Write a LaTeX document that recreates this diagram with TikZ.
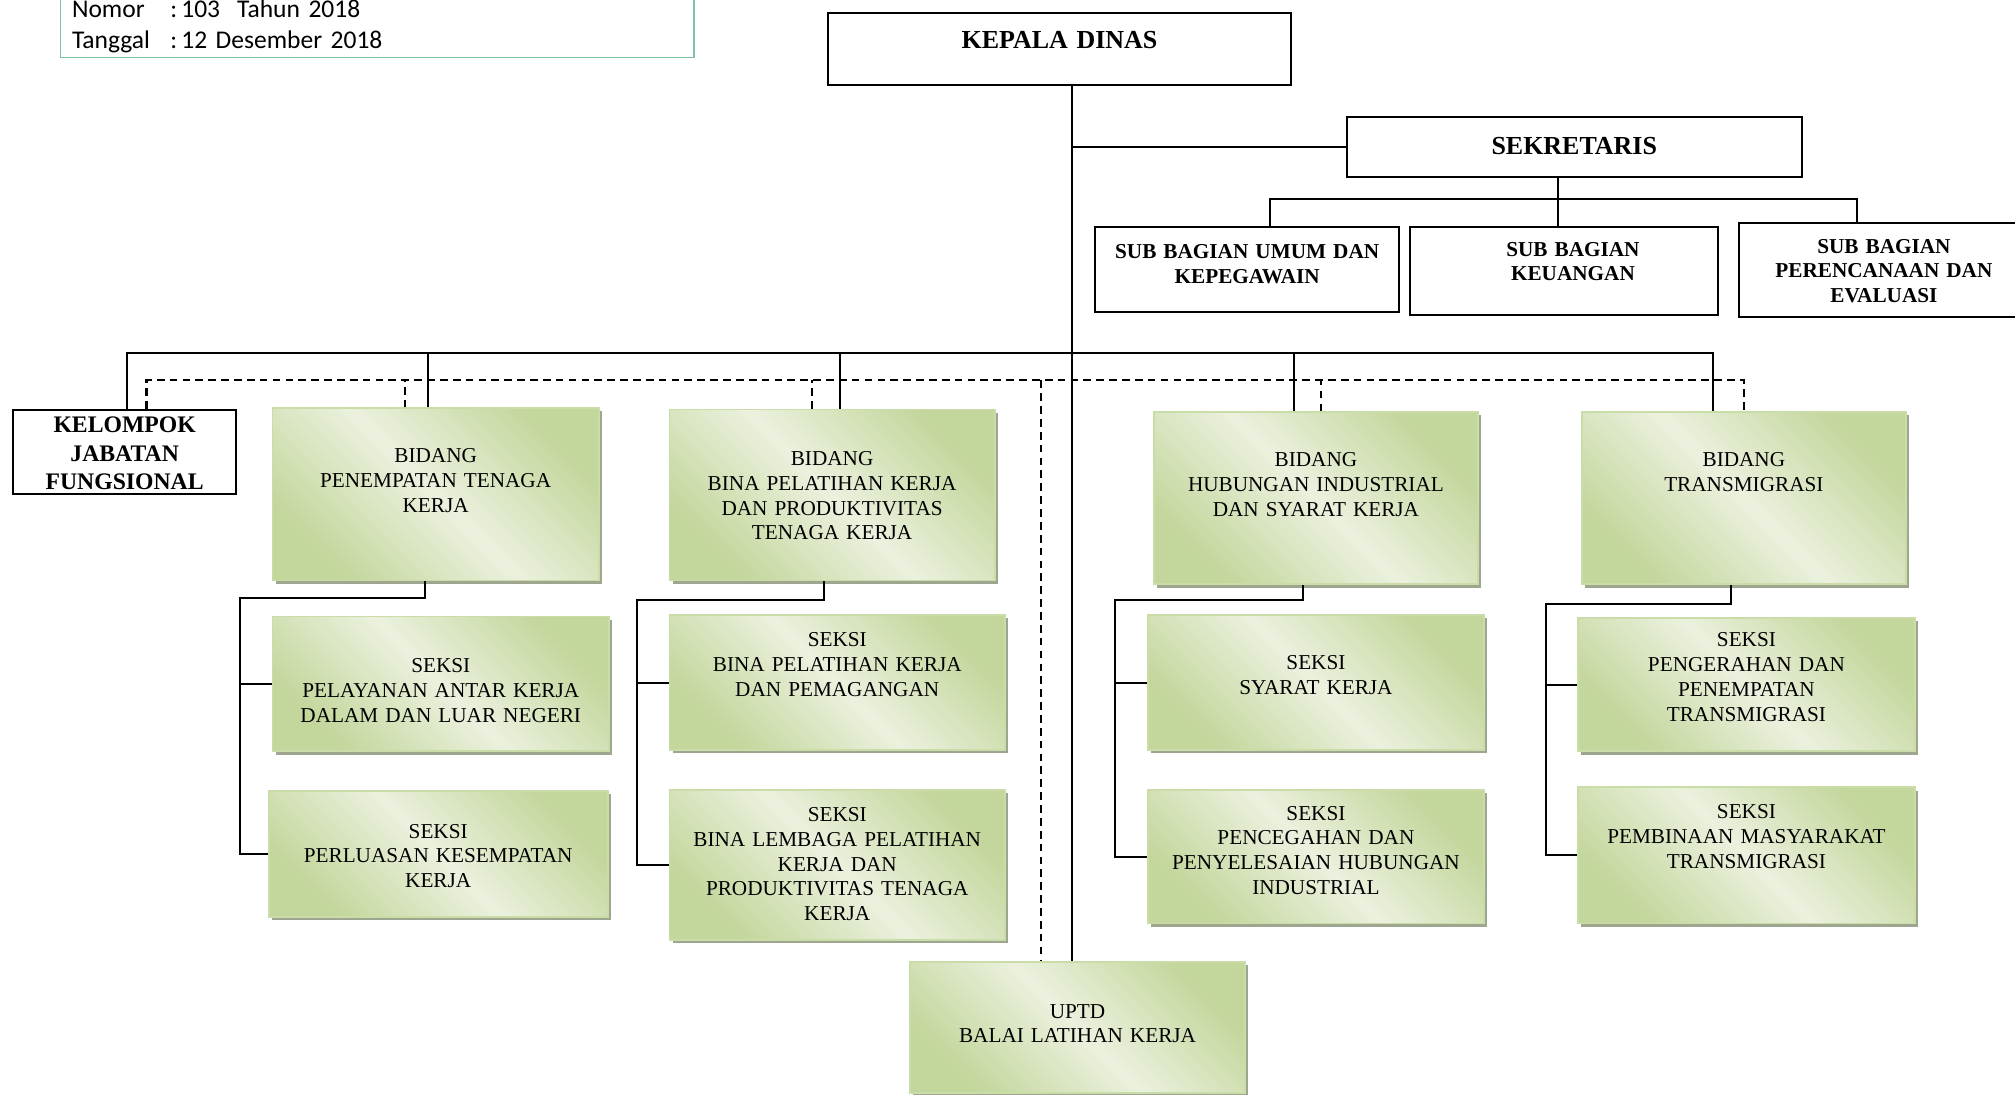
\documentclass[tikz,border=0pt]{standalone}
\usepackage{fontspec}
\setmainfont{Liberation Serif}
\newfontfamily\kalibri{Carlito}
\usetikzlibrary{calc,shadows}

\definecolor{hijaumuda}{HTML}{EBF1DE}
\definecolor{hijautua}{HTML}{C3D69B}
\definecolor{tepihijau}{HTML}{CADCA8}
\definecolor{bayang}{HTML}{9EA68F}
\definecolor{tepisk}{HTML}{7FC4A2}

\begin{document}
\begin{tikzpicture}[x=0.02cm,y=-0.02cm,
  kotak/.style={draw,line width=0.9pt,anchor=north,inner sep=0pt,align=center,
    font=\bfseries\fontsize{9.4}{10.8}\selectfont},
  hijau/.style={draw=tepihijau,line width=0.8pt,anchor=north,inner sep=0pt,align=center,
    top color=hijautua,bottom color=hijautua,middle color=hijaumuda,shading angle=-45,
    drop shadow={shadow xshift=0.05cm,shadow yshift=-0.05cm,fill=bayang,opacity=1},
    font=\fontsize{9.4}{11}\selectfont},
  garis/.style={line width=0.9pt},
  putus/.style={line width=0.9pt,dash pattern=on 3.4pt off 2.3pt}
  ]

  \useasboundingbox (0,0) rectangle (1568,852);
  \clip (0,0) rectangle (1568,852);

  \node[draw=tepisk,line width=0.6pt,anchor=north,inner ysep=0pt,inner xsep=0.18cm,
    text width=9.5cm,align=left,text height=0.66cm,text depth=0.62cm,
    font=\kalibri\fontsize{11.3}{13.6}\selectfont] (sk) at (293.5,-20)
    {\begin{tabular}[t]{@{}l@{\hspace{9pt}}l@{}}Nomor & :\,103\ \ Tahun 2018\\ Tanggal & :\,12 Desember 2018\end{tabular}};

  \node[kotak,text width=7.22cm,text height=0.554cm,text depth=0.566cm,
    font=\bfseries\fontsize{11.5}{13}\selectfont] (kadis) at (824.5,9) {KEPALA DINAS};
  \node[kotak,text width=7.08cm,text height=0.594cm,text depth=0.346cm,
    font=\bfseries\fontsize{11.5}{13}\selectfont] (sekr) at (1225,90) {SEKRETARIS};

  \node[kotak,text width=4.74cm,text height=0.49cm,text depth=0.83cm] (sbu) at (970.5,176)
    {SUB BAGIAN UMUM DAN\\KEPEGAWAIN};
  \node[kotak,text width=4.8cm,text height=0.45cm,text depth=0.91cm] (sbk) at (1217,176)
    {\hspace*{0.28cm}SUB BAGIAN\\\hspace*{0.28cm}KEUANGAN};
  \node[kotak,text width=4.52cm,text height=0.47cm,text depth=0.99cm] (sbp) at (1466,173)
    {SUB BAGIAN\\PERENCANAAN DAN\\EVALUASI};

  \node[kotak,text width=3.48cm,text height=0.36cm,text depth=0.96cm,
    font=\bfseries\fontsize{10.5}{12.5}\selectfont] (kjf) at (97,318)
    {KELOMPOK\\JABATAN\\FUNGSIONAL};

  \node[hijau,text width=5.08cm,text height=0.85cm,text depth=1.83cm] (bpt) at (339,317)
    {BIDANG\\PENEMPATAN TENAGA\\KERJA};
  \node[hijau,text width=5.06cm,text height=0.87cm,text depth=1.79cm] (bpp) at (647.5,318)
    {BIDANG\\BINA PELATIHAN KERJA\\DAN PRODUKTIVITAS\\TENAGA KERJA};
  \node[hijau,text width=5.04cm,text height=0.85cm,text depth=1.83cm] (bhi) at (1024,320)
    {BIDANG\\HUBUNGAN INDUSTRIAL\\DAN SYARAT KERJA};
  \node[hijau,text width=5.04cm,text height=0.85cm,text depth=1.83cm] (btr) at (1357,320)
    {BIDANG\\TRANSMIGRASI};

  \node[hijau,text width=5.24cm,text height=0.87cm,text depth=1.23cm] (spak) at (343,479)
    {SEKSI\\PELAYANAN ANTAR KERJA\\DALAM DAN LUAR NEGERI};
  \node[hijau,text width=5.28cm,text height=0.73cm,text depth=1.23cm] (spks) at (341,615)
    {SEKSI\\PERLUASAN KESEMPATAN\\KERJA};
  \node[hijau,text width=5.22cm,text height=0.49cm,text depth=1.61cm] (sbpk) at (651.5,478)
    {SEKSI\\BINA PELATIHAN KERJA\\DAN PEMAGANGAN};
  \node[hijau,text width=5.22cm,text height=0.49cm,text depth=1.85cm] (sblp) at (651.5,614)
    {SEKSI\\BINA LEMBAGA PELATIHAN\\KERJA DAN\\PRODUKTIVITAS TENAGA\\KERJA};
  \node[hijau,text width=5.24cm,text height=0.85cm,text depth=1.25cm] (ssk) at (1024,478)
    {SEKSI\\SYARAT KERJA};
  \node[hijau,text width=5.24cm,text height=0.47cm,text depth=1.61cm] (spph) at (1024,614)
    {SEKSI\\PENCEGAHAN DAN\\PENYELESAIAN HUBUNGAN\\INDUSTRIAL};
  \node[hijau,text width=5.24cm,text height=0.45cm,text depth=1.63cm] (spp) at (1359,480)
    {SEKSI\\PENGERAHAN DAN\\PENEMPATAN\\TRANSMIGRASI};
  \node[hijau,text width=5.24cm,text height=0.49cm,text depth=1.63cm] (spm) at (1359,612)
    {SEKSI\\PEMBINAAN MASYARAKAT\\TRANSMIGRASI};

  \node[hijau,text width=5.22cm,text height=0.87cm,text depth=1.17cm] (uptd) at (838.5,748)
    {UPTD\\BALAI LATIHAN KERJA};

  \coordinate (bus) at (834,275);
  \coordinate (fung) at (810,296);
  \coordinate (sub) at (1212,155);
  \coordinate (k1) at (187,465);
  \coordinate (k2) at (496,467);
  \coordinate (k3) at (868,467);
  \coordinate (k4) at (1203,470);

  \draw[garis] (kadis.south -| bus) -- (uptd.north -| bus);
  \draw[garis] (sekr.west) -- (sekr.west -| bus);
  \draw[garis] (sekr.south -| sub) -- (sub |- sbk.north);
  \draw[garis] ([xshift=.35cm]sbu.north) |- (sub) -| ([xshift=-.42cm]sbp.north);

  \draw[garis] ([xshift=.04cm]kjf.north) |- (bus) -| ([xshift=-.48cm]btr.north);
  \draw[garis] ([xshift=-.12cm]bpt.north) -- ([xshift=-.12cm]bpt.north |- bus);
  \draw[garis] ([xshift=.13cm]bpp.north) -- ([xshift=.13cm]bpp.north |- bus);
  \draw[garis] ([xshift=-.34cm]bhi.north) -- ([xshift=-.34cm]bhi.north |- bus);

  \draw[putus] ([xshift=.34cm]kjf.north) |- (fung) -| (btr.north);
  \draw[putus] (fung) -- (uptd.north -| fung);
  \draw[putus] ([xshift=-.48cm]bpt.north) -- ([xshift=-.48cm]bpt.north |- fung);
  \draw[putus] ([xshift=-.31cm]bpp.north) -- ([xshift=-.31cm]bpp.north |- fung);
  \draw[putus] ([xshift=.08cm]bhi.north) -- ([xshift=.08cm]bhi.north |- fung);

  \draw[garis] ([xshift=-.16cm]bpt.south) |- (k1) |- (spks.west);
  \draw[garis] (k1 |- spak.west) -- (spak.west);
  \draw[garis] ([xshift=-.13cm]bpp.south) |- (k2) |- (sblp.west);
  \draw[garis] (k2 |- sbpk.west) -- (sbpk.west);
  \draw[garis] ([xshift=-.2cm]bhi.south) |- (k3) |- (spph.west);
  \draw[garis] (k3 |- ssk.west) -- (ssk.west);
  \draw[garis] ([xshift=-.2cm]btr.south) |- (k4) |- (spm.west);
  \draw[garis] (k4 |- spp.west) -- (spp.west);

\end{tikzpicture}
\end{document}
